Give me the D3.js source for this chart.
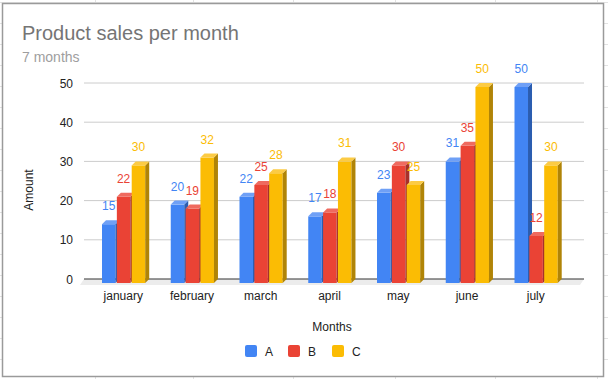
<!DOCTYPE html>
<html><head><meta charset="utf-8">
<script src="https://cdn.jsdelivr.net/npm/d3@7"></script>
<style>body{margin:0;background:#fff;}svg{display:block;font-family:"Liberation Sans",Arial,sans-serif;}</style>
</head><body>
<svg id="c" width="608" height="379"></svg>
<script>
const months = ["january","february","march","april","may","june","july"];
const seriesNames = ["A","B","C"];
const valuesA = [15,20,22,17,23,31,50];
const valuesB = [22,19,25,18,30,35,12];
const valuesC = [30,32,28,31,25,50,30];
const yTicks = [0,10,20,30,40,50];
const colors = {A:"#4285F4",B:"#EA4335",C:"#FBBC04"};
const sideColors = {A:"#2b5db0",B:"#a8302a",C:"#b08407"};
const topColors = {A:"#6fa0f6",B:"#ef6a5f",C:"#fccb44"};
const seriesVals = {A:valuesA,B:valuesB,C:valuesC};

const svg = d3.select("#c");
// spreadsheet background grid
const bg = svg.append("g");
[95,193,293,395,495,597].forEach(x=>bg.append("line").attr("x1",x+0.5).attr("x2",x+0.5).attr("y1",0).attr("y2",379).attr("stroke","#e2e2e2"));
for(let y=2;y<379;y+=21) bg.append("line").attr("x1",0).attr("x2",608).attr("y1",y+0.5).attr("y2",y+0.5).attr("stroke","#e2e2e2");
svg.append("rect").attr("x",2.5).attr("y",3.5).attr("width",601).attr("height",373).attr("fill","#fff").attr("stroke","#9a9a9a").attr("stroke-width",1.5);

const d = 4;
const yF = d3.scaleLinear().domain([0,50]).range([283,87]);
const yB = v => yF(v) - d;
const x0 = d3.scaleBand().domain(months).range([89.9,571.15]).paddingInner(0.352).paddingOuter(0.176);
const x1 = d3.scaleBand().domain(seriesNames).range([0,x0.bandwidth()]);
const fw = x1.bandwidth()*0.91;

// floor
const fl = svg.append("g");
fl.append("polygon").attr("points",[[84,yB(0)],[584,yB(0)],[580,yF(0)+2],[80,yF(0)+2]].map(p=>p.join(",")).join(" ")).attr("fill","#ececec");
// gridlines
yTicks.forEach(t=>{
  if(t>0) svg.append("line").attr("x1",84).attr("x2",584).attr("y1",yB(t)).attr("y2",yB(t)).attr("stroke","#cccccc");
  svg.append("text").attr("x",73).attr("y",yB(t)+4.5).attr("text-anchor","end").attr("font-size",12).attr("fill","#222").text(t);
});
svg.append("line").attr("x1",84).attr("x2",584).attr("y1",yB(0)).attr("y2",yB(0)).attr("stroke","#333").attr("stroke-width",1.2);

// bars
const bars = svg.append("g");
months.forEach((m,i)=>{
  seriesNames.forEach(s=>{
    const v = seriesVals[s][i];
    const x = x0(m)+x1(s), yt = yF(v), y0 = yF(0);
    bars.append("rect").attr("x",x).attr("y",yt).attr("width",fw).attr("height",y0-yt).attr("fill",colors[s]);
    bars.append("polygon").attr("points",[[x+fw,yt],[x+fw+d,yt-d],[x+fw+d,y0-d],[x+fw,y0]].map(p=>p.join(",")).join(" ")).attr("fill",sideColors[s]);
    bars.append("polygon").attr("points",[[x,yt],[x+d,yt-d],[x+fw+d,yt-d],[x+fw,yt]].map(p=>p.join(",")).join(" ")).attr("fill",topColors[s]);
  });
});
// labels
months.forEach((m,i)=>{
  seriesNames.forEach(s=>{
    const v = seriesVals[s][i];
    svg.append("text").attr("x",x0(m)+x1(s)+fw/2).attr("y",yF(v)-14).attr("text-anchor","middle").attr("font-size",12).attr("fill",colors[s]).text(v);
  });
  svg.append("text").attr("x",x0(m)+x0.bandwidth()/2-1).attr("y",300).attr("text-anchor","middle").attr("font-size",12).attr("fill","#222").text(m);
});

// titles
svg.append("text").attr("x",22).attr("y",40).attr("font-size",20).attr("fill","#757575").text("Product sales per month");
svg.append("text").attr("x",22).attr("y",62).attr("font-size",14).attr("fill","#9e9e9e").text("7 months");
svg.append("text").attr("transform","translate(33,190) rotate(-90)").attr("text-anchor","middle").attr("font-size",12).attr("fill","#222").text("Amount");
svg.append("text").attr("x",332).attr("y",331).attr("text-anchor","middle").attr("font-size",12).attr("fill","#222").text("Months");

// legend
const legX = [245,288,332];
seriesNames.forEach((s,i)=>{
  svg.append("rect").attr("x",legX[i]).attr("y",345).attr("width",12).attr("height",12).attr("rx",2).attr("fill",colors[s]);
  svg.append("text").attr("x",legX[i]+20).attr("y",355.5).attr("font-size",12).attr("fill","#222").text(s);
});
</script>
</body></html>
